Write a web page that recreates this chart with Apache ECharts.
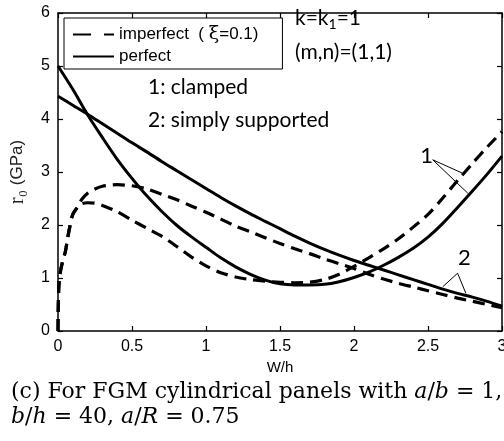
<!DOCTYPE html>
<html><head><meta charset="utf-8">
<script src="https://cdn.jsdelivr.net/npm/echarts@6/dist/echarts.min.js"></script>
<style>html,body{margin:0;padding:0;background:#fff}#c{width:504px;height:441px}</style>
</head><body><div id="c"></div>
<script>
// ---- data ----
const wGrid = [0,0.1,0.2,0.3,0.4,0.5,0.6,0.7,0.8,0.9,1.0,1.1,1.2,1.3,1.4,1.5,1.6,1.7,1.8,1.9,2.0,2.1,2.2,2.3,2.4,2.5,2.6,2.7,2.8,2.9,3.0];
const perfectClamped = [5.0,4.56,4.08,3.65,3.24,2.88,2.55,2.26,2.0,1.78,1.58,1.38,1.21,1.07,0.96,0.89,0.87,0.87,0.88,0.93,1.01,1.11,1.24,1.39,1.56,1.77,2.03,2.33,2.64,2.96,3.30];
const perfectSimply  = [4.43,4.26,4.09,3.91,3.73,3.55,3.38,3.2,3.03,2.86,2.69,2.52,2.36,2.21,2.07,1.93,1.79,1.66,1.54,1.43,1.33,1.24,1.15,1.06,0.97,0.88,0.79,0.71,0.64,0.56,0.47];
const impClampedW = [0,0.002,0.006,0.015,0.03,0.05,0.065,0.08,0.1,0.13,0.16,0.2,0.25,0.3,0.4,0.5,0.6,0.7,0.8,0.9,1.0,1.1,1.2,1.3,1.4,1.5,1.6,1.7,1.8,1.9,2.0,2.1,2.2,2.3,2.4,2.5,2.6,2.7,2.8,2.9,3.0];
const impClampedR = [0,0.5,0.85,1.1,1.3,1.5,1.75,1.97,2.2,2.33,2.4,2.42,2.41,2.37,2.25,2.09,1.94,1.79,1.6,1.4,1.23,1.1,1.02,0.97,0.94,0.92,0.91,0.92,0.97,1.07,1.22,1.38,1.55,1.74,1.96,2.2,2.51,2.84,3.16,3.47,3.76];
const impSimplyW = [0,0.002,0.006,0.015,0.03,0.05,0.065,0.08,0.1,0.13,0.16,0.2,0.25,0.3,0.35,0.4,0.5,0.6,0.7,0.8,0.9,1.0,1.1,1.2,1.3,1.4,1.5,1.6,1.7,1.8,1.9,2.0,2.1,2.2,2.3,2.4,2.5,2.6,2.7,2.8,2.9,3.0];
const impSimplyR = [0,0.5,0.85,1.1,1.3,1.5,1.75,1.97,2.2,2.33,2.48,2.6,2.68,2.73,2.75,2.76,2.74,2.68,2.58,2.48,2.36,2.24,2.11,1.98,1.87,1.76,1.65,1.55,1.46,1.36,1.27,1.18,1.07,0.98,0.9,0.83,0.76,0.69,0.62,0.56,0.5,0.44];
const xTicks = [0,0.5,1,1.5,2,2.5,3];
const yTicks = [0,1,2,3,4,5,6];
// leader lines in data units
const leader1 = {label:'1', at:[2.49,3.30], from:[2.532,3.23], to:[[2.735,2.975],[2.769,2.60]]};
const leader2 = {label:'2', at:[2.745,1.37], from:[2.70,1.09], to:[[2.60,0.836],[2.756,0.71]]};
const nameImp = 'imperfect';
const namePerf = 'perfect';

const zip = (xs, ys) => xs.map((x, i) => [x, ys[i]]);
const BK = '#000';
const sans = 'Liberation Sans';
const cal = 'Lato';

const chart = echarts.init(document.getElementById('c'), null, {renderer:'canvas'});

function axisCommon(pos, showLabel){
  return {
    type:'value', position:pos,
    axisLine:{show:true, onZero:false, lineStyle:{color:BK, width:1.5}},
    axisTick:{show:true, inside:true, length:5, lineStyle:{color:BK, width:1.2}},
    axisLabel:{show:showLabel, color:BK, fontFamily:sans, fontSize:16, margin:8},
    splitLine:{show:false}
  };
}
const xMin = xTicks[0], xMax = xTicks[xTicks.length-1];
const yMin = yTicks[0], yMax = yTicks[yTicks.length-1];

const leaderLines = [leader1, leader2].flatMap(l => l.to.map(t => [{coord:l.from},{coord:t}]));
const lineSeries = (name, data, dashed) => ({
  name, type:'line', data, symbol:'none', showSymbol:false, smooth:0.3,
  itemStyle:{color:BK}, z: dashed ? 4 : 3,
  lineStyle:{color:BK, width: dashed ? 3.2 : 3, type: dashed ? [12,7] : 'solid'}
});

const s0 = lineSeries(namePerf, zip(wGrid, perfectClamped), false);
s0.markLine = {silent:true, symbol:['none','none'], label:{show:false}, lineStyle:{color:BK, width:1, type:'solid'}, data:leaderLines};

const option = {
  animation:false,
  backgroundColor:'#fff',
  grid:{left:58, right:2, top:13, bottom:110, containLabel:false, outerBoundsMode:'none'},
  xAxis:[
    Object.assign(axisCommon('bottom', true), {min:xMin, max:xMax, interval:0.5,
      name:'W/h', nameLocation:'middle', nameGap:21,
      nameTextStyle:{color:BK, fontFamily:sans, fontSize:15}}),
    Object.assign(axisCommon('top', false), {min:xMin, max:xMax, interval:0.5})
  ],
  yAxis:[
    Object.assign(axisCommon('left', true), {min:yMin, max:yMax, interval:1,
      name:'{a|r\u2080}{b| (GPa)}', nameLocation:'middle', nameGap:30, nameRotate:90,
      nameTextStyle:{rich:{a:{fontFamily:'Liberation Serif', fontSize:21, color:'#222'}, b:{fontFamily:sans, fontSize:17, color:'#222'}}}}),
    Object.assign(axisCommon('right', false), {min:yMin, max:yMax, interval:1})
  ],
  legend:{
    orient:'vertical', left:64, top:18, itemWidth:41, itemHeight:14, itemGap:4,
    padding:[7,24,4,8], borderColor:BK, borderWidth:1, backgroundColor:'#fff',
    selectedMode:false,
    itemStyle:{opacity:0},
    formatter: n => n === nameImp ? '{t|imperfect  ( }{x|\u03BE}{t|=0.1)}' : '{t|' + n + '}',
    textStyle:{fontFamily:sans, fontSize:17, color:BK,
      rich:{t:{fontFamily:sans, fontSize:17, color:BK}, x:{fontFamily:'DejaVu Serif', fontSize:19, color:BK}}},
    data:[{name:nameImp, lineStyle:{type:[18,13]}, itemStyle:{opacity:0}}, {name:namePerf, itemStyle:{opacity:0}}]
  },
  series:[
    s0,
    lineSeries(namePerf, zip(wGrid, perfectSimply), false),
    lineSeries(nameImp, zip(impClampedW, impClampedR), true),
    lineSeries(nameImp, zip(impSimplyW, impSimplyR), true)
  ]
};
chart.setOption(option);

const p1 = chart.convertToPixel({gridIndex:0}, leader1.at);
const p2 = chart.convertToPixel({gridIndex:0}, leader2.at);
const capFont = 'DejaVu Serif';
const calRich = {
  n:{fontFamily:cal, fontSize:21, lineHeight:26, fill:BK, verticalAlign:'middle'},
  s:{fontFamily:cal, fontSize:14, lineHeight:26, fill:BK, verticalAlign:'middle', padding:[11,0,0,0]}
};
const capRich = {
  r:{fontFamily:capFont, fontSize:22, fill:BK},
  i:{fontFamily:capFont, fontSize:22, fontStyle:'italic', fill:BK}
};
chart.setOption({graphic:[
  {type:'text', left:295, top:6, style:{text:'{n|k=k}{s|1}{n|=1}', rich:calRich}},
  {type:'text', left:295, top:42, style:{text:'{n|(m,n)=(1,1)}', rich:calRich}},
  {type:'text', left:148, top:77, style:{text:'1: clamped', font:'21px '+cal, fill:BK}},
  {type:'text', left:148, top:110, style:{text:'2: simply supported', font:'21px '+cal, fill:BK}},
  {type:'text', x:p1[0], y:p1[1], style:{text:leader1.label, font:'22px '+cal, fill:BK, align:'center', verticalAlign:'middle'}},
  {type:'text', x:p2[0], y:p2[1], style:{text:leader2.label, font:'22px '+cal, fill:BK, align:'center', verticalAlign:'middle'}},
  {type:'text', left:11, top:381, style:{
    text:'{r|(c) For FGM cylindrical panels with }{i|a}{r|/}{i|b}{r| = 1,}', rich:capRich}},
  {type:'text', left:11, top:406, style:{
    text:'{i|b}{r|/}{i|h}{r| = 40, }{i|a}{r|/}{i|R}{r| = 0.75}', rich:capRich}}
]});
</script></body></html>
